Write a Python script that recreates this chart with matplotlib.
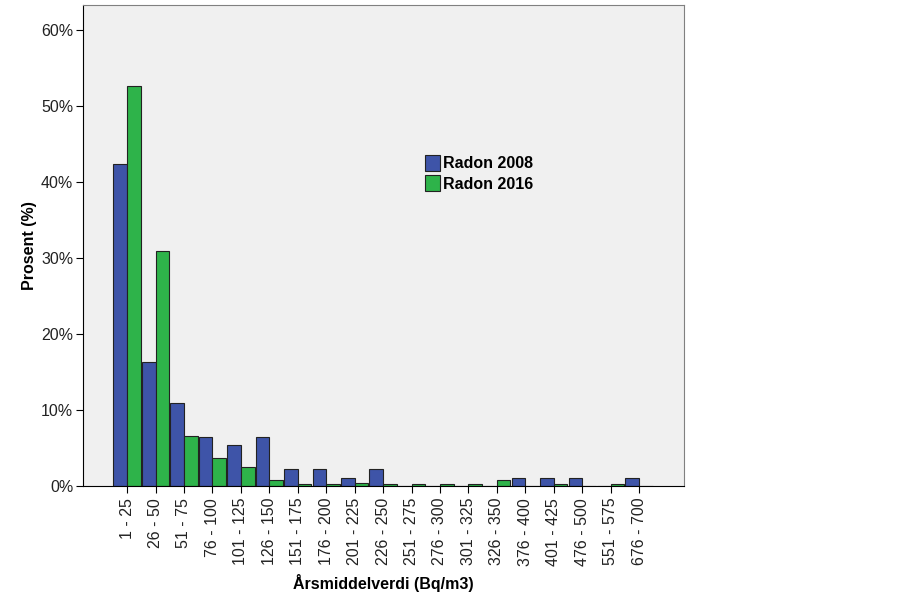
import numpy as np
import matplotlib.pyplot as plt
import matplotlib
from matplotlib.ticker import FuncFormatter

matplotlib.rc('font', family='Liberation Sans')

categories = ['1 - 25', '26 - 50', '51 - 75', '76 - 100', '101 - 125', '126 - 150',
              '151 - 175', '176 - 200', '201 - 225', '226 - 250', '251 - 275',
              '276 - 300', '301 - 325', '326 - 350', '376 - 400', '401 - 425',
              '476 - 500', '551 - 575', '676 - 700']
radon_2008 = [42.4, 16.3, 10.9, 6.5, 5.4, 6.5, 2.2, 2.2, 1.1, 2.2,
              0, 0, 0, 0, 1.1, 1.1, 1.1, 0, 1.1]
radon_2016 = [52.7, 30.9, 6.6, 3.7, 2.5, 0.8, 0.2, 0.2, 0.4, 0.2,
              0.2, 0.2, 0.2, 0.8, 0, 0.2, 0, 0.2, 0]

fig = plt.figure(figsize=(9.13, 6.02), dpi=100)
ax = fig.add_axes([83/913, 1 - 486/602, (684-83)/913, (486-5)/602])
ax.set_facecolor('#F0F0F0')

x = np.arange(len(categories))
w = 0.48
ax.bar(x - w/2, radon_2008, w, color='#3E54A8', edgecolor='#222222', linewidth=0.8,
       label='Radon 2008')
ax.bar(x + w/2, radon_2016, w, color='#2EB34A', edgecolor='#222222', linewidth=0.8,
       label='Radon 2016')

ax.set_xlim(-1.55, len(categories) - 1 + 1.58)
ax.set_ylim(0, 63.3)
ax.set_yticks(range(0, 61, 10))
ax.yaxis.set_major_formatter(FuncFormatter(lambda v, p: '%d%%' % v))
ax.set_xticks(x)
ax.set_xticklabels(categories, rotation=90)
ax.tick_params(axis='both', labelsize=11.5, length=5, color='black', labelcolor='#222222')
ax.tick_params(axis='y', pad=2)

for s in ['top', 'right']:
    ax.spines[s].set_color('#808080')
for s in ['left', 'bottom']:
    ax.spines[s].set_color('black')

ax.set_ylabel('Prosent (%)', fontsize=11.5, fontweight='bold', labelpad=3)
ax.set_xlabel('Årsmiddelverdi (Bq/m3)', fontsize=11.5, fontweight='bold', labelpad=6)

leg = ax.legend(loc='upper left', bbox_to_anchor=(0.556, 0.704), frameon=False,
                prop={'size': 11.5, 'weight': 'bold'}, handlelength=0.95, handleheight=1.1,
                handletextpad=0.15, labelspacing=0.25, borderpad=0)

fig.savefig('out.png', dpi=100)
